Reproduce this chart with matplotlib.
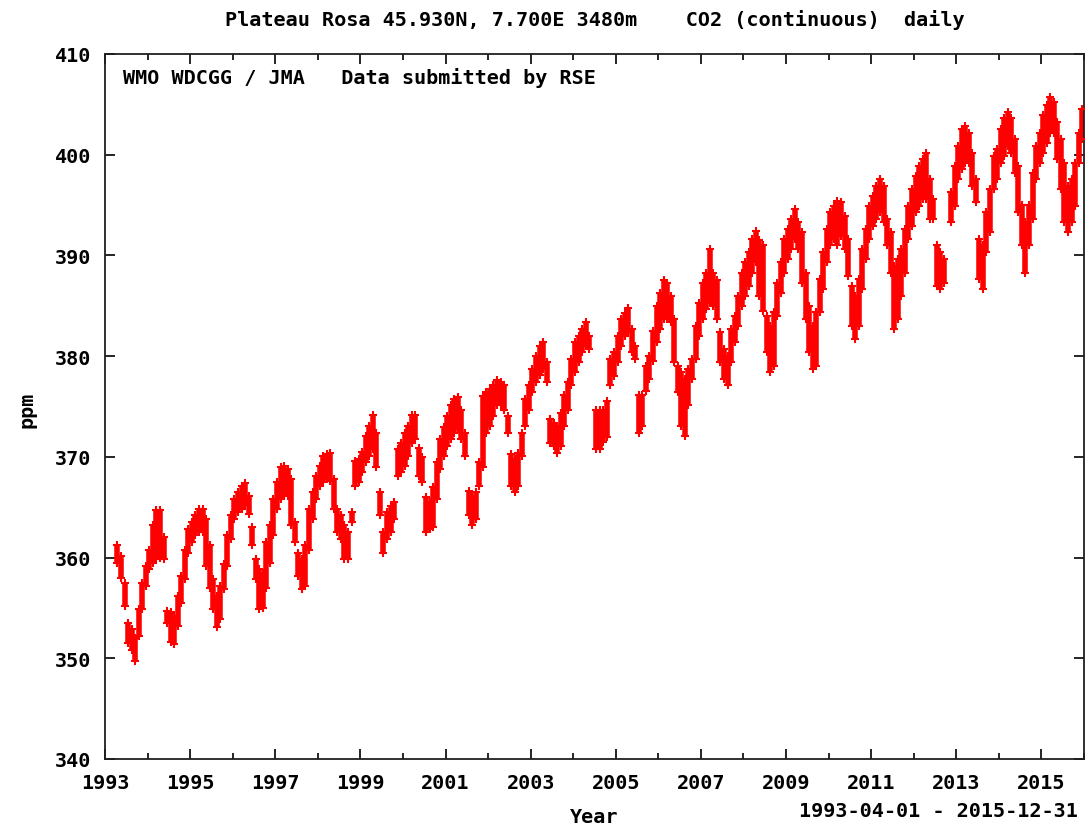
import numpy as np
import matplotlib
matplotlib.use("Agg")
import matplotlib.pyplot as plt
from matplotlib.ticker import MultipleLocator

# ---------------- data (monthly envelope of daily values) ----
first_month = 1993.25          # 1993-04
title = "Plateau Rosa 45.930N, 7.700E 3480m    CO2 (continuous)  daily"
credit = "WMO WDCGG / JMA   Data submitted by RSE"
period = "1993-04-01 - 2015-12-31"

co2_low = [
    359.5, 358.0, 355.2, 351.5, 350.8, 349.7, 352.2, 354.9, 357.2,                    # 1993 Apr-Dec
    358.9, 359.5, 359.9, 360.0, 359.9, 353.5, 351.6, 351.4, 353.2, 355.5, 357.9, 360.5,  # 1994
    361.5, 362.2, 362.5, 362.5, 359.2, 357.0, 354.9, 353.1, 353.9, 356.9, 359.2, 361.8,  # 1995
    363.8, 364.5, 364.8, 365.2, 364.3, 361.2, 357.9, 354.9, 355.0, 357.0, 359.5, 362.2,  # 1996
    364.8, 365.8, 366.1, 366.1, 363.2, 361.5, 358.2, 356.9, 357.2, 360.8, 363.8, 365.8,  # 1997
    367.1, 367.5, 367.8, 367.6, 364.8, 362.5, 361.8, 359.9, 359.9, 363.5, 367.1, 367.5,  # 1998
    368.5, 369.5, 370.1, 370.8, 369.0, 364.2, 360.5, 361.8, 362.5, 363.8, 368.1, 368.5,  # 1999
    369.1, 370.1, 371.4, 371.8, 368.1, 367.5, 362.5, 362.8, 363.0, 365.8, 368.8, 370.1,  # 2000
    371.1, 371.8, 372.4, 372.8, 371.8, 370.1, 364.2, 363.2, 363.8, 367.1, 369.0, 372.4,  # 2001
    373.1, 374.1, 375.1, 375.1, 374.7, 372.4, 367.1, 366.5, 367.1, 370.1, 373.1, 374.7,  # 2002
    376.4, 377.4, 378.1, 378.7, 377.4, 371.4, 371.1, 370.4, 371.1, 373.1, 374.7, 377.1,  # 2003
    378.4, 379.4, 380.4, 381.0, 380.7, None, 370.8, 370.8, 371.5, 372.0, 377.1, 378.0,   # 2004
    379.4, 381.0, 382.0, 382.4, 380.4, 379.7, 372.4, 373.1, 376.5, 377.7, 379.5, 381.4,  # 2005
    382.7, 383.7, 383.7, 383.4, 379.4, 376.4, 373.1, 372.1, 375.1, 377.7, 379.7, 382.0,  # 2006
    383.7, 384.7, 385.3, 385.0, 383.7, 379.4, 377.7, 377.1, 379.4, 381.4, 383.0, 385.0,  # 2007
    386.0, 387.0, 388.3, 389.3, 386.0, 384.5, 380.4, 378.4, 379.0, 384.0, 386.3, 388.3,  # 2008
    389.6, 390.6, 391.6, 390.6, 387.3, 383.7, 380.4, 378.7, 379.0, 384.4, 386.7, 389.3,  # 2009
    391.0, 391.6, 391.0, 391.9, 390.6, 388.0, 383.0, 381.7, 383.0, 386.7, 389.6, 391.6,  # 2010
    392.9, 393.6, 394.3, 393.3, 391.0, 388.3, 382.7, 383.7, 386.0, 388.3, 391.6, 392.9,  # 2011
    394.3, 394.9, 395.6, 395.6, 393.6, 393.6, 387.0, 386.7, 387.3, None, 393.3, 394.9,   # 2012
    397.6, 398.6, 399.2, 399.2, 396.9, 395.3, 387.7, 386.7, 390.3, 392.3, 396.6, 397.6,  # 2013
    399.2, 399.9, 400.9, 400.2, 398.2, 394.3, 391.0, 388.3, 391.0, 393.6, 397.6, 399.2,  # 2014
    400.2, 401.2, 402.2, 402.2, 399.6, 396.6, 393.3, 392.3, 393.3, 394.9, 399.2, 401.6,  # 2015
]
co2_high = [
    361.2, 360.2, 357.5, 353.5, 352.9, 352.0, 354.9, 357.5, 359.2,                    # 1993 Apr-Dec
    360.8, 363.2, 364.7, 364.7, 362.0, 354.7, 354.6, 354.2, 356.2, 358.2, 360.8, 362.8,  # 1994
    363.5, 364.2, 364.8, 364.8, 363.8, 361.2, 357.9, 356.2, 357.2, 359.4, 362.2, 364.2,  # 1995
    365.8, 366.5, 367.1, 367.4, 366.1, 363.0, 359.9, 358.9, 358.5, 361.5, 363.2, 365.8,  # 1996
    367.5, 369.0, 369.1, 368.8, 367.8, 363.5, 360.5, 359.9, 361.2, 364.8, 366.5, 368.1,  # 1997
    369.1, 370.1, 370.3, 370.4, 367.8, 364.8, 364.2, 363.2, 362.5, 364.5, 369.6, 369.8,  # 1998
    370.5, 372.1, 373.1, 374.2, 372.4, 366.5, 362.5, 364.5, 365.1, 365.5, 370.8, 371.4,  # 1999
    372.4, 373.1, 374.2, 374.2, 370.9, 370.0, 366.0, 365.5, 367.0, 369.5, 371.8, 373.0,  # 2000
    374.1, 375.1, 375.7, 375.9, 374.7, 372.4, 366.6, 366.1, 366.5, 369.5, 376.0, 376.4,  # 2001
    376.7, 377.1, 377.6, 377.4, 377.1, 374.1, 370.3, 369.8, 370.4, 372.4, 375.7, 377.1,  # 2002
    378.7, 380.0, 381.0, 381.4, 379.4, 373.8, 373.4, 373.1, 374.4, 376.1, 377.4, 379.7,  # 2003
    381.4, 382.0, 382.7, 383.4, 382.0, None, 374.7, 374.7, 374.7, 375.5, 379.7, 380.4,   # 2004
    382.0, 383.7, 384.3, 384.8, 382.7, 381.0, 376.1, 376.1, 379.0, 380.0, 382.5, 385.0,  # 2005
    386.3, 387.6, 387.3, 386.0, 383.7, 379.0, 378.4, 377.7, 378.7, 379.7, 383.0, 385.3,  # 2006
    387.3, 388.3, 390.6, 388.3, 387.6, 382.4, 380.7, 380.0, 382.7, 384.0, 386.0, 388.3,  # 2007
    389.3, 390.3, 391.6, 392.4, 391.5, 391.0, 384.0, 383.0, 384.4, 387.3, 389.3, 391.6,  # 2008
    392.6, 393.6, 394.6, 393.3, 392.3, 388.3, 385.0, 383.0, 384.4, 387.7, 390.3, 392.6,  # 2009
    394.3, 394.9, 395.4, 395.3, 393.9, 391.6, 387.0, 386.0, 387.7, 390.6, 392.6, 394.9,  # 2010
    395.9, 396.9, 397.6, 396.9, 393.6, 392.3, 389.0, 389.6, 390.6, 392.6, 394.9, 396.6,  # 2011
    397.9, 398.9, 399.6, 400.2, 397.6, 395.6, 391.0, 390.3, 389.6, None, 396.3, 398.9,   # 2012
    400.9, 402.6, 402.9, 402.2, 400.2, 397.6, 391.6, 391.0, 394.3, 396.6, 399.9, 400.6,  # 2013
    402.6, 403.6, 404.2, 403.6, 401.6, 398.9, 395.0, 393.3, 395.0, 398.2, 400.9, 402.2,  # 2014
    403.9, 404.9, 405.7, 405.2, 403.2, 401.6, 399.2, 396.9, 397.6, 399.2, 402.2, 404.5,  # 2015
]

y_ticks = [340, 350, 360, 370, 380, 390, 400, 410]
x_ticks = list(range(1993, 2016, 2))

# ---------------- plotting ----------------
lo = np.array([np.nan if v is None else v for v in co2_low], dtype=float)
hi = np.array([np.nan if v is None else v for v in co2_high], dtype=float)
t = first_month + (np.arange(len(lo)) + 0.5) / 12.0
ok = ~np.isnan(lo)

FONT = "DejaVu Sans Mono"
FS = 14.5
W, H = 1089, 828
fig = plt.figure(figsize=(W / 100, H / 100), dpi=100)
ax = fig.add_axes([105 / W, 1 - 760 / H, (1084 - 105) / W, (760 - 55) / H])

red = "#ff0000"
ax.vlines(t[ok], lo[ok], hi[ok], color=red, lw=4.0, zorder=2)
ax.plot(t[ok], lo[ok], "+", color=red, ms=6, mew=1.5, zorder=3)
ax.plot(t[ok], hi[ok], "+", color=red, ms=6, mew=1.5, zorder=3)

ax.set_xlim(1993, 2016)
ax.set_ylim(340, 410)
ax.set_xticks(x_ticks)
ax.xaxis.set_minor_locator(MultipleLocator(1))
ax.set_yticks(y_ticks)

ax.tick_params(axis="both", which="major", direction="in", length=7, width=1.2,
               top=True, right=True, labelsize=FS)
ax.tick_params(axis="x", which="minor", direction="in", length=4, width=1.2,
               top=True, bottom=True)
ax.tick_params(axis="x", which="major", pad=10)
ax.tick_params(axis="y", which="major", pad=10)
for lab in ax.get_xticklabels() + ax.get_yticklabels():
    lab.set_fontfamily(FONT)
    lab.set_fontweight("bold")
for s in ax.spines.values():
    s.set_linewidth(1.3)
    s.set_color("#202020")

fig.text(595 / W, 1 - 20 / H, title, ha="center", va="center",
         fontfamily=FONT, fontweight="bold", fontsize=FS)
fig.text(123 / W, 1 - 78 / H, credit, ha="left", va="center",
         fontfamily=FONT, fontweight="bold", fontsize=FS)
fig.text(594 / W, 1 - 818 / H, "Year", ha="center", va="center",
         fontfamily=FONT, fontweight="bold", fontsize=FS)
fig.text(1078 / W, 1 - 812 / H, period, ha="right", va="center",
         fontfamily=FONT, fontweight="bold", fontsize=FS)
fig.text(27 / W, 1 - 410 / H, "ppm", ha="center", va="center", rotation=90,
         fontfamily=FONT, fontweight="bold", fontsize=FS)

fig.savefig("out.png", dpi=100, facecolor="white")
